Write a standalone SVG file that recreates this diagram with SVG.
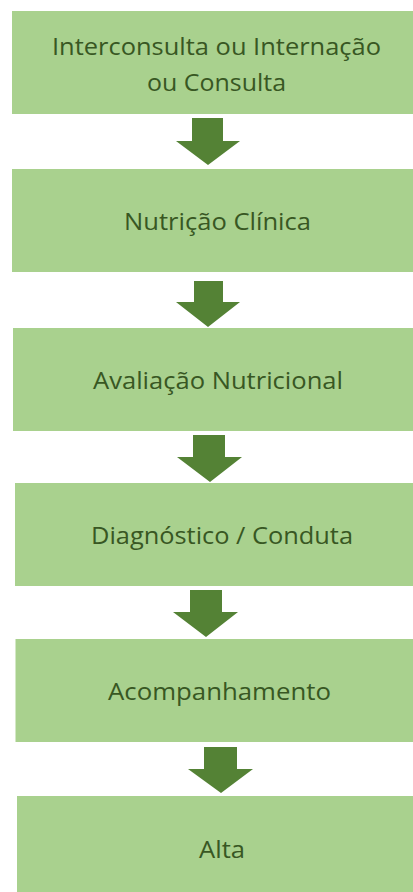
<svg xmlns="http://www.w3.org/2000/svg" width="413" height="892" viewBox="0 0 413 892">
<style>
.box{fill:#a9d18e}
.arr{fill:#548235}
.t{font-family:"Open Sans","Liberation Sans",Arial,sans-serif;font-size:23px;fill:#385723;text-anchor:middle}
</style>
<rect width="413" height="892" fill="#ffffff"/>
<g id="connectors">
<path class="arr" d="M192,118 H223 V141 H240 L208,165 L176,141 H192 Z"/>
<path class="arr" d="M194,281 H223 V302 H240 L208,327 L176,302 H194 Z"/>
<path class="arr" d="M193,435 H225 V457 H242 L210,482 L177,457 H193 Z"/>
<path class="arr" d="M190,590 H222 V612 H238 L206,637 L173,612 H190 Z"/>
<path class="arr" d="M204,747 H237 V769 H253 L221,793 L188,769 H204 Z"/>
</g>
<g id="n1">
<rect class="box" x="12" y="11" width="401" height="103"/>
<text class="t" x="216.5" y="55" textLength="329" lengthAdjust="spacingAndGlyphs">Interconsulta ou Internação</text>
<text class="t" x="216.5" y="91" textLength="139" lengthAdjust="spacingAndGlyphs">ou Consulta</text>
</g>
<g id="n2">
<rect class="box" x="12" y="169" width="401" height="103"/>
<text class="t" x="217.5" y="230" textLength="187" lengthAdjust="spacingAndGlyphs">Nutrição Clínica</text>
</g>
<g id="n3">
<rect class="box" x="13" y="328" width="400" height="103"/>
<text class="t" x="218" y="389" textLength="250" lengthAdjust="spacingAndGlyphs">Avaliação Nutricional</text>
</g>
<g id="n4">
<rect class="box" x="15" y="483" width="398" height="103"/>
<text class="t" x="222" y="544" textLength="262" lengthAdjust="spacingAndGlyphs">Diagnóstico / Conduta</text>
</g>
<g id="n5">
<rect class="box" x="15.5" y="639" width="397.5" height="103"/>
<text class="t" x="219.5" y="700" textLength="223" lengthAdjust="spacingAndGlyphs">Acompanhamento</text>
</g>
<g id="n6">
<rect class="box" x="17" y="796" width="396" height="96"/>
<text class="t" x="222" y="858" textLength="46" lengthAdjust="spacingAndGlyphs">Alta</text>
</g>
</svg>
